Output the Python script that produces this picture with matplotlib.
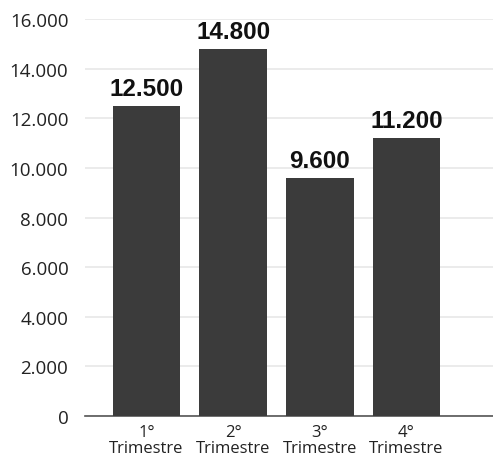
import matplotlib.pyplot as plt
from matplotlib.ticker import FuncFormatter

quarters = ["1°\nTrimestre", "2°\nTrimestre", "3°\nTrimestre", "4°\nTrimestre"]
sales = [12500, 14800, 9600, 11200]
y_ticks = [0, 2000, 4000, 6000, 8000, 10000, 12000, 14000, 16000]


def thousands(v, pos=None):
    return f"{int(v):,}".replace(",", ".")


fig = plt.figure(figsize=(4.93, 4.56), dpi=100)
ax = fig.add_axes([0.1724, 0.0855, 0.8276, 0.8705])

x = list(range(len(sales)))
bars = ax.bar(x, sales, width=0.78, color="#3b3b3b", zorder=3)
for b, v in zip(bars, sales):
    ax.text(b.get_x() + b.get_width() / 2, v + 250, thousands(v),
            ha="center", va="bottom", fontsize=17.5, fontweight="bold",
            family="Liberation Sans", color="#111111", zorder=4)

ax.set_xlim(-0.71, 4.0)
ax.set_ylim(0, 16000)
ax.set_yticks(y_ticks)
ax.yaxis.set_major_formatter(FuncFormatter(thousands))
ax.set_xticks(x)
ax.set_xticklabels(quarters, family="Open Sans", fontsize=12, linespacing=0.95)
for lbl in ax.get_yticklabels():
    lbl.set_family("Open Sans")
    lbl.set_fontsize(13.5)
ax.tick_params(axis="y", length=0, pad=12, colors="#222222")
ax.tick_params(axis="x", length=0, pad=6, colors="#222222")

ax.grid(axis="y", color="#e8e8e8", linewidth=1.2, zorder=0)
for s in ["top", "right", "left"]:
    ax.spines[s].set_visible(False)
ax.spines["bottom"].set_color("#555555")
ax.spines["bottom"].set_linewidth(1.2)

fig.savefig("out.png", dpi=100)
